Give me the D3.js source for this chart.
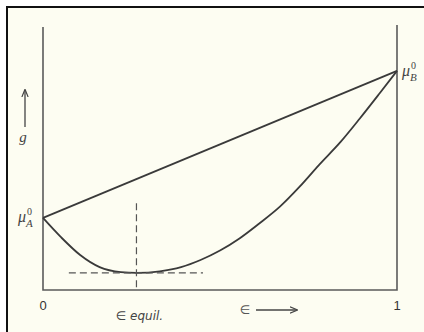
<!DOCTYPE html>
<html>
<head>
<meta charset="utf-8">
<script src="https://cdn.jsdelivr.net/npm/d3@7"></script>
<style>
  body { margin: 0; background: #fff; }
  svg { display: block; }
</style>
</head>
<body>
<div id="chart"></div>
<script>
// data: extent of reaction vs free energy g
const extent = [0, 0.05, 0.105, 0.16, 0.22, 0.265, 0.33, 0.39, 0.445, 0.5, 0.555, 0.61, 0.67, 0.725, 0.78, 0.84, 0.895, 0.95, 1];
const gMix   = [2.74, 2.02, 1.33, 0.87, 0.68, 0.65, 0.71, 0.87, 1.14, 1.5, 1.96, 2.52, 3.18, 3.93, 4.76, 5.62, 6.52, 7.46, 8.33];
const muEnds = [2.74, 8.33];          // mu_A^0, mu_B^0
const xTicks = ["0", "1"];
const eqX = 0.264, eqG = 0.65;
const eqDashX = [0.073, 0.452];
const eqDashTop = 3.3;

const width = 424, height = 332;

const svg = d3.select("#chart").append("svg")
    .attr("width", width)
    .attr("height", height);

// paper + frame
svg.append("rect").attr("x", 6).attr("y", 6).attr("width", width - 6).attr("height", height - 6)
    .attr("fill", "#fdfdf2");
svg.append("path").attr("d", "M7," + height + "V7H" + width)
    .attr("fill", "none").attr("stroke", "#111").attr("stroke-width", 2);

const x = d3.scaleLinear().domain([0, 1]).range([43, 397]);
const y = d3.scaleLinear().domain([0, 10]).range([290, 27]);

const ink = "#3a3a3a";

// axes (left, bottom, right)
svg.append("path")
    .attr("d", "M" + x(0) + "," + y(10) + "V" + y(0) + "H" + x(1) + "V" + (y(10) - 2))
    .attr("fill", "none").attr("stroke", "#5a5a5a").attr("stroke-width", 1.6);

// straight line mu_A -> mu_B
svg.append("line")
    .attr("x1", x(0)).attr("y1", y(muEnds[0]))
    .attr("x2", x(1)).attr("y2", y(muEnds[1]))
    .attr("stroke", ink).attr("stroke-width", 1.8);

// mixing curve
const line = d3.line()
    .x((d, i) => x(extent[i]))
    .y(d => y(d))
    .curve(d3.curveMonotoneX);
svg.append("path")
    .attr("d", line(gMix))
    .attr("fill", "none").attr("stroke", ink).attr("stroke-width", 1.8);

// dashed equilibrium guides
svg.append("line")
    .attr("x1", x(eqDashX[0])).attr("x2", x(eqDashX[1]))
    .attr("y1", y(eqG)).attr("y2", y(eqG))
    .attr("stroke", "#555").attr("stroke-width", 1.2).attr("stroke-dasharray", "7,4");
svg.append("line")
    .attr("x1", x(eqX)).attr("x2", x(eqX))
    .attr("y1", y(eqDashTop)).attr("y2", y(0))
    .attr("stroke", "#555").attr("stroke-width", 1.2).attr("stroke-dasharray", "7,4");

// tick labels
svg.selectAll(".tick").data(xTicks).enter().append("text")
    .attr("x", (d, i) => x(i)).attr("y", 310)
    .attr("text-anchor", "middle")
    .style("font-family", "'Liberation Sans', sans-serif").style("font-size", "13px")
    .attr("fill", "#333")
    .text(d => d);

svg.append("text")
    .attr("x", x(eqX) + 3).attr("y", 320)
    .attr("text-anchor", "middle")
    .style("font-family", "'DejaVu Sans', sans-serif").style("font-size", "12px")
    .style("font-style", "italic")
    .attr("fill", "#444")
    .text("∈ equil.");

svg.append("text")
    .attr("x", 245).attr("y", 314)
    .attr("text-anchor", "middle")
    .style("font-family", "'DejaVu Sans', sans-serif").style("font-size", "12px")
    .attr("fill", "#555")
    .text("∈");

// arrows
svg.append("defs").append("marker")
    .attr("id", "arr").attr("viewBox", "0 0 10 10").attr("refX", 9).attr("refY", 5)
    .attr("markerWidth", 6).attr("markerHeight", 6).attr("orient", "auto")
    .append("path").attr("d", "M0,1L10,5L0,9").attr("fill", "none").attr("stroke", "#444").attr("stroke-width", 1.5);

svg.append("line")
    .attr("x1", 256).attr("y1", 310).attr("x2", 297).attr("y2", 310)
    .attr("stroke", "#444").attr("stroke-width", 1.3).attr("marker-end", "url(#arr)");
svg.append("line")
    .attr("x1", 25).attr("y1", 127).attr("x2", 25).attr("y2", 90)
    .attr("stroke", "#444").attr("stroke-width", 1.3).attr("marker-end", "url(#arr)");

svg.append("text")
    .attr("x", 23).attr("y", 142)
    .attr("text-anchor", "middle")
    .style("font-family", "'Liberation Serif', serif").style("font-size", "15px")
    .style("font-style", "italic")
    .attr("fill", "#444")
    .text("g");

// mu labels: mu, then stacked superscript 0 and subscript letter
function muLabel(cx, cy, sub) {
    const g = svg.append("g").attr("fill", "#444")
        .style("font-family", "'Liberation Serif', serif");
    g.append("text").attr("x", cx).attr("y", cy)
        .style("font-size", "16px").style("font-style", "italic").text("μ");
    g.append("text").attr("x", cx + 9).attr("y", cy - 7)
        .style("font-size", "10px").text("0");
    g.append("text").attr("x", cx + 8).attr("y", cy + 5)
        .style("font-size", "11px").style("font-style", "italic").text(sub);
}
muLabel(18, y(muEnds[0]) + 4, "A");
muLabel(402, y(muEnds[1]) + 5, "B");
</script>
</body>
</html>
